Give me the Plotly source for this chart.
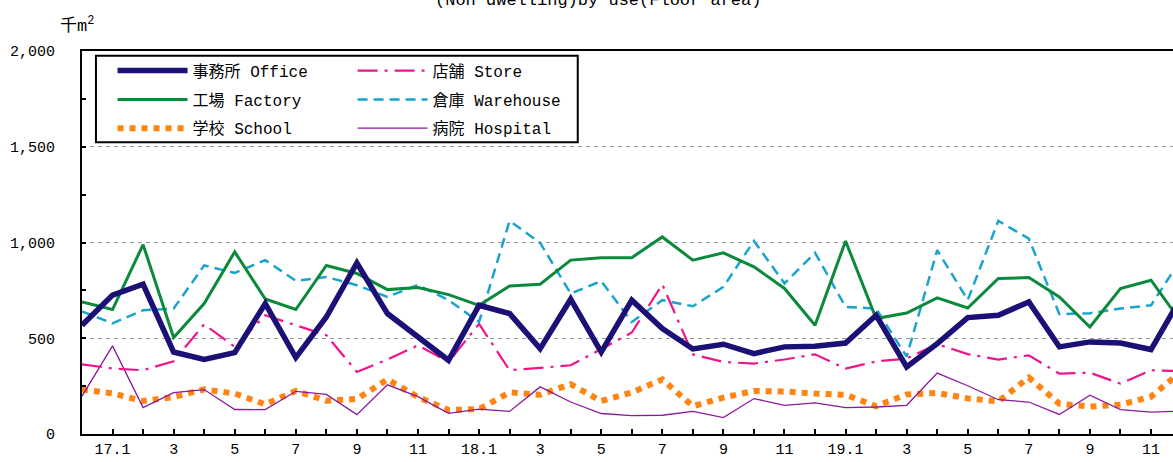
import plotly.graph_objects as go

months = ["16.12", "17.1", "17.2", "17.3", "17.4", "17.5", "17.6", "17.7", "17.8", "17.9", "17.10", "17.11", "17.12",
          "18.1", "18.2", "18.3", "18.4", "18.5", "18.6", "18.7", "18.8", "18.9", "18.10", "18.11", "18.12",
          "19.1", "19.2", "19.3", "19.4", "19.5", "19.6", "19.7", "19.8", "19.9", "19.10", "19.11", "19.12"]
tick_labels = ["", "17.1", "", "3", "", "5", "", "7", "", "9", "", "11", "",
               "18.1", "", "3", "", "5", "", "7", "", "9", "", "11", "",
               "19.1", "", "3", "", "5", "", "7", "", "9", "", "11", ""]
year_ticks = ["17.1", "18.1", "19.1"]

office = [568, 725, 782, 428, 389, 425, 681, 399, 611, 893, 629, 507, 385,
          672, 629, 446, 704, 428, 699, 551, 444, 469, 420, 455, 458,
          475, 620, 350, 472, 608, 620, 690, 455, 481, 475, 441, 717]
store = [364, 342, 333, 380, 573, 455, 620, 568, 516, 324, 389, 463, 376,
         575, 333, 345, 359, 443, 530, 781, 416, 376, 368, 389, 416,
         342, 379, 394, 469, 417, 388, 411, 315, 320, 263, 333, 328]
factory = [690, 650, 989, 504, 681, 951, 705, 650, 880, 838, 754, 765, 728,
           672, 773, 782, 908, 921, 921, 1029, 908, 946, 873, 760, 568,
           1008, 603, 632, 711, 658, 812, 817, 716, 559, 760, 803, 582]
warehouse = [640, 578, 646, 655, 880, 841, 908, 800, 820, 777, 716, 778, 699,
             585, 1113, 998, 733, 799, 585, 699, 667, 768, 1008, 786, 946,
             664, 655, 404, 960, 700, 1113, 1020, 626, 631, 655, 672, 917]
school = [232, 212, 172, 193, 233, 211, 155, 225, 174, 183, 285, 193, 125,
          130, 217, 205, 260, 172, 217, 285, 145, 190, 225, 222, 211,
          205, 145, 207, 214, 186, 170, 295, 158, 143, 153, 195, 328]
hospital = [198, 460, 138, 216, 232, 128, 127, 223, 207, 101, 257, 195, 108,
            130, 118, 246, 167, 107, 96, 98, 118, 86, 185, 150, 163,
            138, 141, 150, 318, 252, 179, 167, 102, 203, 127, 114, 120]

FONT = "Liberation Mono, Noto Sans CJK JP, monospace"

series = [
    # name, values, color, width, dash, legend, rank
    ("学校 School", school, "#ff8412", 6, "dot", "legend", 3),
    ("病院 Hospital", hospital, "#8b1a9b", 1.3, "solid", "legend2", 6),
    ("店舗 Store", store, "#f0148c", 2.2, "20px,7px,3px,7px", "legend2", 4),
    ("倉庫 Warehouse", warehouse, "#1aa3cc", 2.5, "10px,6px", "legend2", 5),
    ("工場 Factory", factory, "#0b8a3c", 3, "solid", "legend", 2),
    ("事務所 Office", office, "#1a1075", 5.5, "solid", "legend", 1),
]

fig = go.Figure()
for name, vals, color, width, dash, leg, rank in series:
    fig.add_trace(go.Scatter(
        x=months, y=vals, name=name, mode="lines",
        line=dict(color=color, width=width, dash=dash),
        legend=leg, legendrank=rank, legendgroup=name,
    ))

year_pos = [months.index(m) for m in year_ticks]
x_end = 35.72

legend_common = dict(
    y=0.993, xanchor="left", yanchor="top", orientation="v",
    bgcolor="rgba(0,0,0,0)", borderwidth=0, tracegroupgap=5, itemwidth=70,
    font=dict(family=FONT, size=16, color="black"), traceorder="grouped",
)

fig.update_layout(
    width=1173, height=462,
    margin=dict(l=82, r=0, t=51, b=28),
    plot_bgcolor="white", paper_bgcolor="white",
    font=dict(family=FONT, size=15, color="black"),
    xaxis=dict(
        type="category", range=[0, x_end],
        tickmode="array", tickvals=months, ticktext=tick_labels,
        ticks="inside", ticklen=5, tickwidth=1.5, tickcolor="black",
        showline=True, linecolor="black", linewidth=2, mirror=True,
        showgrid=False, zeroline=False,
        tickfont=dict(family=FONT, size=15, color="black"),
    ),
    xaxis2=dict(
        overlaying="x", anchor="y", side="bottom", range=[0, x_end],
        tickmode="array", tickvals=year_pos, showticklabels=False,
        ticks="outside", ticklen=5, tickwidth=1.5, tickcolor="black",
        showline=False, showgrid=False, zeroline=False,
    ),
    yaxis=dict(
        range=[0, 2000], tickmode="array", tickvals=[0, 500, 1000, 1500, 2000],
        tickformat=",", ticks="inside", ticklen=4, tickwidth=1.5, tickcolor="black",
        minor=dict(dtick=250, ticks="inside", ticklen=4, tickwidth=1.5, tickcolor="black", showgrid=False),
        showline=True, linecolor="black", linewidth=2,
        showgrid=True, gridcolor="#9a9a9a", gridwidth=1.3, griddash="4px,4px",
        zeroline=False, ticklabelstandoff=22,
        tickfont=dict(family=FONT, size=15, color="black"),
    ),
    legend=dict(x=0.028, **legend_common),
    legend2=dict(x=0.248, **legend_common),
    shapes=[dict(
        type="rect", xref="paper", yref="paper",
        x0=0.0128, x1=0.4544, y0=0.7616, y1=0.9877,
        line=dict(color="black", width=2), fillcolor="white", layer="above",
    )],
    annotations=[
        dict(text="千m<sup>2</sup>", xref="paper", yref="paper", x=-0.022, y=1.068,
             xanchor="left", yanchor="middle", showarrow=False,
             font=dict(family=FONT, size=17, color="black")),
        dict(text="(Non dwelling)by use(Floor area)", xref="paper", yref="paper",
             x=0.473, y=1.1015, xanchor="center", yanchor="bottom", showarrow=False,
             font=dict(family=FONT, size=17, color="black")),
    ],
    showlegend=True,
)

fig.write_html("out.html", config={"displayModeBar": False},
               post_script="document.body.style.margin='0';document.body.style.overflow='hidden';")
